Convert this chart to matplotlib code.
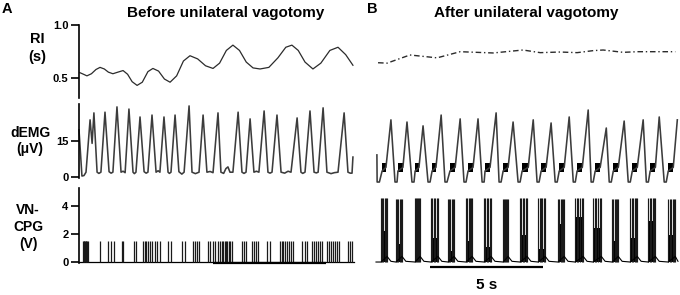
import matplotlib
matplotlib.use('Agg')
import matplotlib.pyplot as plt
import numpy as np

plt.rcParams['font.family'] = ['Liberation Sans', 'DejaVu Sans']
plt.rcParams['font.weight'] = 'bold'

# ---- data (time in s) ----
# RI, before vagotomy
ri_a_t = [0.04, 0.20, 0.35, 0.55, 0.75, 0.93, 1.12, 1.30, 1.50, 1.72, 1.95, 2.15, 2.35, 2.57,
          2.80, 3.05, 3.27, 3.52, 3.78, 4.03, 4.32, 4.62, 4.91, 5.25, 5.60, 5.93, 6.22, 6.52,
          6.81, 7.10, 7.40, 7.70, 8.01, 8.40, 8.80, 9.15, 9.42, 9.70, 10.00, 10.35, 10.70,
          11.10, 11.46, 11.80, 12.12]
ri_a_v = [0.55, 0.535, 0.52, 0.54, 0.58, 0.60, 0.585, 0.555, 0.54, 0.555, 0.57, 0.535, 0.465, 0.43,
          0.46, 0.56, 0.59, 0.565, 0.49, 0.46, 0.52, 0.66, 0.71, 0.68, 0.615, 0.59, 0.64, 0.76,
          0.81, 0.76, 0.65, 0.595, 0.585, 0.60, 0.69, 0.79, 0.81, 0.76, 0.65, 0.585, 0.64,
          0.76, 0.79, 0.72, 0.62]
# RI, after vagotomy
ri_b_t = [0.09, 0.49, 1.50, 2.70, 3.72, 5.18, 6.50, 7.26, 8.14, 8.89, 9.60, 10.04, 10.93,
          11.55, 12.12, 13.23]
ri_b_v = [0.644, 0.64, 0.717, 0.69, 0.748, 0.736, 0.764, 0.739, 0.745, 0.739, 0.758, 0.764,
          0.742, 0.748, 0.748, 0.748]

# dEMG, before vagotomy
demg_a_t = [0.00, 0.13, 0.22, 0.31, 0.49, 0.58, 0.66, 0.80, 0.88, 0.97, 1.15, 1.33, 1.42, 1.50,
            1.68, 1.86, 1.95, 2.04, 2.21, 2.39, 2.45, 2.52, 2.70, 2.88, 2.97, 3.05, 3.23, 3.41,
            3.50, 3.58, 3.76, 3.94, 4.00, 4.07, 4.25, 4.42, 4.55, 4.65, 4.87, 5.00, 5.15, 5.31,
            5.49, 5.66, 5.80, 5.93, 6.15, 6.28, 6.40, 6.50, 6.59, 6.68, 6.81, 7.04, 7.21, 7.30,
            7.39, 7.57, 7.74, 7.85, 7.96, 8.19, 8.36, 8.45, 8.54, 8.76, 8.94, 9.10, 9.25, 9.38,
            9.65, 9.82, 9.90, 10.00, 10.22, 10.40, 10.50, 10.58, 10.80, 10.97, 11.15, 11.30,
            11.46, 11.73, 11.90, 12.00, 12.08, 12.12]
demg_a_v = [19.6, 0.4, 0.6, 2.0, 23.8, 14.0, 26.7, 2.0, 1.5, 2.0, 27.0, 2.2, 1.6, 2.0,
            29.2, 2.0, 2.4, 1.8, 28.3, 2.0, 1.4, 2.0, 25.0, 2.2, 1.6, 2.0, 25.8, 2.0,
            2.6, 2.0, 25.0, 2.0, 1.5, 2.0, 25.8, 2.2, 1.2, 2.0, 29.6, 2.0, 1.4, 2.0,
            25.8, 2.0, 2.3, 1.8, 26.7, 2.0, 1.5, 3.5, 4.2, 2.0, 2.0, 27.0, 2.0, 1.5,
            2.0, 24.2, 2.0, 2.4, 2.0, 27.5, 2.0, 1.6, 2.0, 25.8, 2.0, 1.6, 2.4, 2.0,
            24.6, 2.0, 1.5, 2.0, 27.5, 2.0, 1.7, 2.0, 28.8, 2.0, 1.4, 1.8,
            2.0, 26.7, 2.0, 1.6, 1.6, 8.3]

# dEMG, after vagotomy (cycle landmarks)
demg_b_start_t = [0.04, 0.05, 0.15]
demg_b_start_v = [9.2, -2.1, -2.1]
demg_b_blk_on = [0.27, 0.97, 1.73, 2.48, 3.27, 4.07, 4.82, 5.62, 6.46, 7.30, 8.10, 8.89, 9.69,
                 10.49, 11.33, 12.12, 12.92]
demg_b_blk_off = [0.44, 1.19, 1.90, 2.65, 3.50, 4.29, 5.04, 5.84, 6.73, 7.52, 8.32, 9.12, 9.91,
                  10.71, 11.55, 12.35, 13.14]
demg_b_pk_t = [0.66, 1.37, 2.08, 2.88, 3.72, 4.51, 5.31, 6.06, 6.95, 7.74, 8.54, 9.38, 10.18,
               10.97, 11.81, 12.52, 13.32]
demg_b_pk_v = [23.8, 22.9, 21.3, 25.8, 24.2, 24.2, 26.7, 22.9, 23.8, 22.5, 25.0, 27.9, 20.4,
               23.3, 23.8, 25.0, 23.8]
demg_b_fall = [0.84, 1.59, 2.30, 3.05, 3.89, 4.69, 5.44, 6.28, 7.12, 7.92, 8.72, 9.51, 10.31,
               11.15, 11.95, 12.74]
demg_b_trough_end = [0.93, 1.68, 2.39, 3.14, 3.98, 4.78, 5.53, 6.37, 7.21, 8.01, 8.81, 9.60,
                     10.40, 11.24, 12.04, 12.83]
demg_b_trough = -2.1

# VN-CPG, before vagotomy (spike times)
vn_a_spikes = [0.18, 0.21, 0.24, 0.27, 0.30, 0.33, 0.36, 0.39, 0.93, 1.28, 1.42, 1.55, 1.90, 1.95,
               2.43, 2.52, 2.83, 2.90, 2.96, 3.05, 3.14, 3.23, 3.36, 3.47, 3.58, 3.94, 4.05,
               4.56, 4.67, 5.04, 5.13, 5.22, 5.33, 5.71, 5.80, 5.91, 6.02, 6.13,
               6.24, 6.31, 6.37, 6.44, 6.50, 6.57, 6.64, 6.70, 6.77, 7.21, 7.30, 7.41,
               7.65, 7.74, 7.83, 7.92, 8.32, 8.43, 8.89, 8.96, 9.03, 9.12, 9.20, 9.29, 9.38, 9.47,
               9.87, 9.98, 10.09, 10.31, 10.40, 10.49, 10.58, 10.66, 10.75,
               10.97, 11.06, 11.15, 11.24, 11.33, 11.42, 11.50, 11.90, 11.99, 12.08]
vn_a_height = 1.5
vn_a_end = 12.15

# VN-CPG, after vagotomy (bursts)
vn_b_spikes = [
    [0.22, 0.27, 0.32, 0.38, 0.43, 0.49],
    [0.88, 0.93, 0.99, 1.04, 1.10, 1.15],
    [1.73, 1.77, 1.82, 1.86, 1.91, 1.95],
    [2.43, 2.49, 2.55, 2.62, 2.68, 2.74],
    [3.19, 3.24, 3.29, 3.35, 3.40, 3.45],
    [3.98, 4.03, 4.09, 4.14, 4.20, 4.25],
    [4.78, 4.84, 4.90, 4.97, 5.03, 5.09],
    [5.62, 5.66, 5.71, 5.75, 5.80, 5.84],
    [6.37, 6.43, 6.49, 6.56, 6.62, 6.68],
    [7.17, 7.23, 7.29, 7.36, 7.42, 7.48],
    [8.05, 8.10, 8.16, 8.21, 8.27, 8.32],
    [8.81, 8.88, 8.95, 9.02, 9.09, 9.16],
    [9.60, 9.67, 9.74, 9.82, 9.89, 9.96],
    [10.44, 10.49, 10.55, 10.60, 10.66, 10.71],
    [11.24, 11.30, 11.36, 11.43, 11.49, 11.55],
    [12.04, 12.10, 12.16, 12.23, 12.29, 12.35],
    [12.92, 12.98, 13.04, 13.11, 13.17, 13.23],
]
vn_b_top = [4.6, 4.5, 4.6, 4.6, 4.5, 4.6, 4.6, 4.5, 4.6, 4.6, 4.5, 4.6, 4.6, 4.5, 4.6, 4.6, 4.5]
vn_b_dense = [2.2, 1.3, 1.1, 1.7, 0.8, 1.5, 1.1, 3.2, 1.9, 0.9, 2.7, 3.2, 2.4, 1.5, 1.7, 2.9, 1.9]
vn_b_rest = [0.66, 1.32, 2.12, 2.91, 3.62, 4.42, 5.26, 6.01, 6.85, 7.65, 8.49, 9.33, 10.13,
             10.88, 11.72, 12.52, 13.35]

scale_a = [5.93, 10.93]
scale_b = [2.39, 7.39]

# ---- layout helpers (pixel boxes on a 680x295 canvas) ----
W, H = 680, 295
fig = plt.figure(figsize=(6.8, 2.95), dpi=100)


def add_ax(x0, x1, y0, y1, xlim, ylim, axis=True):
    ax = fig.add_axes([x0 / W, 1 - y1 / H, (x1 - x0) / W, (y1 - y0) / H])
    ax.set_xlim(xlim)
    ax.set_ylim(ylim)
    ax.patch.set_alpha(0)
    for s in ['top', 'right', 'bottom']:
        ax.spines[s].set_visible(False)
    ax.spines['left'].set_linewidth(1.2)
    ax.set_xticks([])
    ax.tick_params(axis='y', length=6, width=1.2, pad=1.5, labelsize=8)
    if not axis:
        ax.spines['left'].set_visible(False)
        ax.set_yticks([])
    return ax


xa = (0, 12.3)
xb = (0, 13.35)
ylim_ri = (0.311, 1.0)
ylim_emg = (-0.42, 30.4)
ylim_vn = (-0.07, 5.29)

tr = dict(color='#2b2b2b', lw=0.9, clip_on=False)
emg = dict(color='#3c3c3c', lw=1.15, clip_on=False)

# RI
ax = add_ax(79, 357, 25, 98, xa, ylim_ri)
ax.plot(ri_a_t, ri_a_v, **tr)
ax.set_yticks([0.5, 1.0])
ax.set_yticklabels(['0.5', '1.0'])

ax = add_ax(376, 678, 25, 98, xb, ylim_ri, axis=False)
ax.plot(ri_b_t, ri_b_v, color='#2b2b2b', lw=1.0, ls=(0, (4, 2, 1, 2)), clip_on=False)

# dEMG
ax = add_ax(79, 357, 104, 178, xa, ylim_emg)
ax.plot(demg_a_t, demg_a_v, **emg)
ax.set_yticks([0, 15])

bt, bv = list(demg_b_start_t), list(demg_b_start_v)
for i in range(len(demg_b_pk_t)):
    bt += [demg_b_blk_on[i], demg_b_blk_off[i], demg_b_pk_t[i]]
    bv += [2.5, 4.0, demg_b_pk_v[i]]
    if i < len(demg_b_fall):
        bt += [demg_b_fall[i], demg_b_trough_end[i]]
        bv += [demg_b_trough, demg_b_trough]
ax = add_ax(376, 678, 104, 178, xb, ylim_emg, axis=False)
ax.plot(bt, bv, **emg)
ax.bar(demg_b_blk_on, 3.7, width=np.array(demg_b_blk_off) - np.array(demg_b_blk_on),
       bottom=2.1, align='edge', color='black', clip_on=False)

# VN-CPG
ax = add_ax(79, 357, 188, 263, xa, ylim_vn)
ax.plot([0, vn_a_end], [0, 0], color='black', lw=0.9, clip_on=False)
ax.vlines(vn_a_spikes, 0, vn_a_height, color='#1a1a1a', lw=0.9, clip_on=False)
ax.plot(scale_a, [-0.05, -0.05], color='black', lw=1.6, clip_on=False, solid_capstyle='butt')
ax.set_yticks([0, 2, 4])

ax = add_ax(376, 678, 188, 263, xb, ylim_vn, axis=False)
base_t, base_v = [0.0], [0.0]
for i, sp in enumerate(vn_b_spikes):
    ax.vlines(sp, 0, vn_b_top[i], color='#1a1a1a', lw=0.85, clip_on=False)
    ax.bar(sp[0], vn_b_dense[i], width=sp[-1] - sp[0], align='edge', color='black',
           clip_on=False)
    base_t += [sp[0], sp[-1], vn_b_rest[i]]
    base_v += [0.0, 0.4, 0.05]
ax.plot(base_t, base_v, color='black', lw=0.8, clip_on=False)
ax.plot(scale_b, [-0.36, -0.36], color='black', lw=1.6, clip_on=False, solid_capstyle='butt')
ax.text(np.mean(scale_b), -1.65, '5 s', ha='center', va='center', fontsize=11)

# text
def ftext(x, y, s, **kw):
    fig.text(x / W, 1 - y / H, s, **kw)


ftext(2, 2, 'A', fontsize=10.5, va='top', ha='left')
ftext(367, 2, 'B', fontsize=10.5, va='top', ha='left')
ftext(226, 17.5, 'Before unilateral vagotomy', fontsize=11, ha='center', va='baseline')
ftext(526, 17.5, 'After unilateral vagotomy', fontsize=11, ha='center', va='baseline')
ftext(37.5, 48, 'RI\n(s)', fontsize=10.5, ha='center', va='center', linespacing=1.3)
ftext(30, 141, 'dEMG\n(\u03bcV)', fontsize=10, ha='center', va='center', linespacing=1.25)
ftext(28, 227, 'VN-\nCPG\n(V)', fontsize=10, ha='center', va='center', linespacing=1.25)

fig.savefig('out.png', dpi=100)
